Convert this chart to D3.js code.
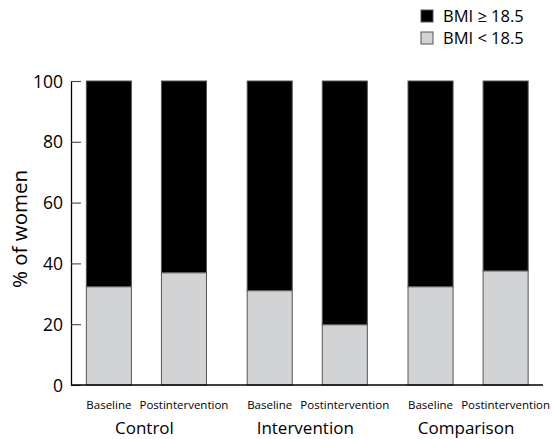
<!DOCTYPE html>
<html><head><meta charset="utf-8">
<script src="https://cdn.jsdelivr.net/npm/d3@7"></script>
<style>body{margin:0;background:#fff}svg{display:block;font-family:"Open Sans",sans-serif}</style>
</head><body><svg id="c" width="553" height="439"></svg>
<script>
const groups = ["Control", "Intervention", "Comparison"];
const timepoints = ["Baseline", "Postintervention"];
const bmiLow = [[32.3, 36.9], [31.0, 19.8], [32.3, 37.5]]; // % BMI < 18.5
const yTicks = [0, 20, 40, 60, 80, 100];
const legendLabels = ["BMI \u2265 18.5", "BMI < 18.5"];
const colors = ["#000000", "#d2d3d5"];

const svg = d3.select("#c");
const y = d3.scaleLinear().domain([0, 100]).range([385, 81]);
const xg = d3.scaleBand().domain(groups).range([66, 548.5]).padding(0);
const xt = d3.scaleBand().domain(timepoints).range([0, xg.bandwidth()]).paddingInner(0.4).paddingOuter(0.271);

const rows = [];
groups.forEach((g, i) => timepoints.forEach((t, j) => rows.push({g, t, low: bmiLow[i][j]})));

const bars = svg.append("g").selectAll("g").data(rows).join("g")
  .attr("transform", d => `translate(${xg(d.g) + xt(d.t)},0)`);
bars.append("rect").attr("x", 0).attr("width", xt.bandwidth())
  .attr("y", y(100)).attr("height", d => y(d.low) - y(100))
  .attr("fill", colors[0]).attr("stroke", "#555").attr("stroke-width", 1);
bars.append("rect").attr("x", 0).attr("width", xt.bandwidth())
  .attr("y", d => y(d.low)).attr("height", d => y(0) - y(d.low))
  .attr("fill", colors[1]).attr("stroke", "#555").attr("stroke-width", 1);

// y axis
const ya = svg.append("g").attr("transform", "translate(71,0)")
  .call(d3.axisRight(y).tickValues(yTicks).tickSize(10).tickSizeOuter(0).tickFormat(d3.format("d")));
ya.select(".domain").attr("stroke", "#000").attr("stroke-width", 1.3);
ya.selectAll(".tick line").attr("stroke", "#444").attr("stroke-width", 1.1);
ya.selectAll(".tick text").attr("x", -8).attr("text-anchor", "end").attr("dy", "0.35em")
  .attr("font-size", 17.5).attr("fill", "#000").attr("font-family", "Open Sans");

// x axis line
svg.append("line").attr("x1", 71).attr("x2", 543).attr("y1", y(0)).attr("y2", y(0))
  .attr("stroke", "#000").attr("stroke-width", 1.3);

// sub labels
svg.append("g").selectAll("text").data(rows).join("text")
  .attr("x", d => xg(d.g) + xt(d.t) + xt.bandwidth() / 2).attr("y", 409)
  .attr("text-anchor", "middle").attr("font-size", 11.5).text(d => d.t);
// group labels
svg.append("g").selectAll("text").data(groups).join("text")
  .attr("x", d => xg(d) + xg.bandwidth() / 2 - 2).attr("y", 434)
  .attr("text-anchor", "middle").attr("font-size", 17).text(d => d);

// y label
svg.append("text").attr("transform", "translate(27,229) rotate(-90)")
  .attr("text-anchor", "middle").attr("font-size", 20.5).text("% of women");

// legend
const lg = svg.append("g").selectAll("g").data(legendLabels).join("g")
  .attr("transform", (d, i) => `translate(421,${10 + i * 22})`);
lg.append("rect").attr("width", 12).attr("height", 12)
  .attr("fill", (d, i) => colors[i]).attr("stroke", "#555").attr("stroke-width", 1);
lg.append("text").attr("x", 22).attr("y", 12).attr("font-size", 16.5).text(d => d);
</script></body></html>
